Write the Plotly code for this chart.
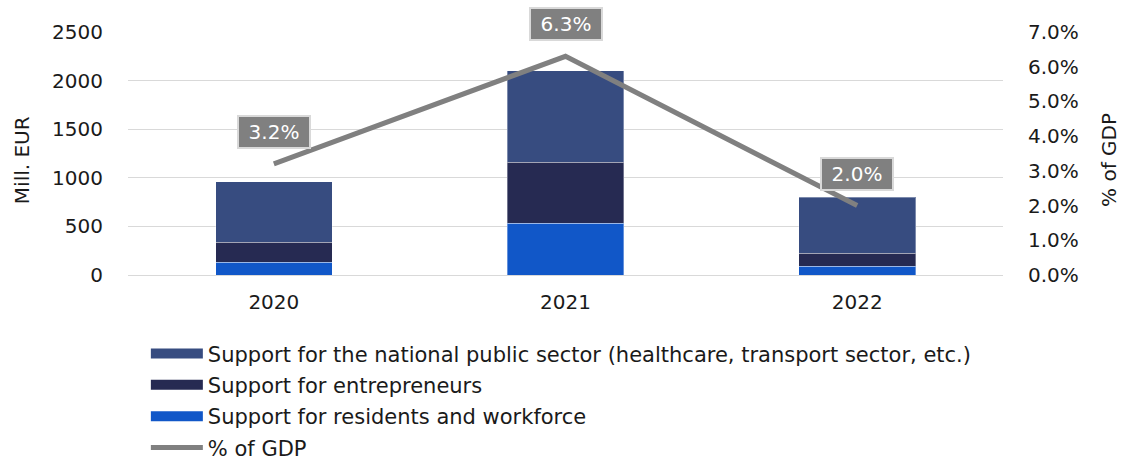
import plotly.graph_objects as go

# Support measures by year (million EUR) and total as share of GDP
years = ["2020", "2021", "2022"]
public_sector = [624, 943, 576]
entrepreneurs = [206, 627, 134]
residents = [130, 532, 89]
gdp_share = [0.032, 0.063, 0.020]

names = [
    "Support for the national public sector (healthcare, transport sector, etc.)",
    "Support for entrepreneurs",
    "Support for residents and workforce",
    "% of GDP",
]
left_title = "Mill. EUR"
right_title = "% of GDP"
colors = ["#374C80", "#262A52", "#1157C8"]
line_color = "#808080"
font_family = "DejaVu Sans, Verdana, sans-serif"
text_color = "#1a1a1a"
clear = "rgba(0,0,0,0)"

fig = go.Figure()

# stacked bars, bottom segment first
stack = [(residents, colors[2], names[2]),
         (entrepreneurs, colors[1], names[1]),
         (public_sector, colors[0], names[0])]
for vals, col, nm in stack:
    fig.add_trace(go.Bar(
        x=years, y=vals, name=nm, marker=dict(color=col,
        line=dict(color="rgba(255,255,255,0.35)", width=1)),
        width=0.4, showlegend=False,
    ))

# legend entries drawn as wide swatches (kept on hidden helper axes)
for i, (nm, col) in enumerate(zip(names[:3], colors)):
    fig.add_trace(go.Scatter(
        x=[None], y=[None], mode="lines", name=nm, xaxis="x2", yaxis="y3",
        line=dict(color=col, width=12), legendgroup=f"g{i}",
        hoverinfo="skip",
    ))

fig.add_trace(go.Scatter(
    x=years, y=gdp_share, mode="lines", name=names[3], yaxis="y2",
    line=dict(color=line_color, width=5), legendgroup="g3",
))

# value boxes above the GDP-share line (x given as category index)
for idx, v in enumerate(gdp_share):
    fig.add_annotation(
        x=idx, y=v, xref="x", yref="y2", text=f"{v*100:.1f}%",
        showarrow=False, yshift=32, width=70, height=30,
        bgcolor=line_color, bordercolor="#d9d9d9", borderwidth=2, borderpad=0,
        font=dict(family=font_family, size=20, color="white"),
    )

# axis titles
fig.add_annotation(text=left_title, xref="paper", yref="paper", x=-0.121, y=0.473,
                   textangle=-90, showarrow=False, xanchor="center", yanchor="middle",
                   font=dict(family=font_family, size=20, color=text_color))
fig.add_annotation(text=right_title, xref="paper", yref="paper", x=1.121, y=0.473,
                   textangle=-90, showarrow=False, xanchor="center", yanchor="middle",
                   font=dict(family=font_family, size=20, color=text_color))

fig.update_layout(
    width=1122, height=465,
    margin=dict(l=128, r=119, t=32, b=190, autoexpand=False),
    paper_bgcolor="white", plot_bgcolor="white",
    barmode="stack",
    font=dict(family=font_family, size=20, color=text_color),
    xaxis=dict(type="category", categoryorder="array", categoryarray=years,
               range=[-0.5, 2.5], autorange=False,
               showgrid=False, showline=False,
               ticks="outside", ticklen=9, tickcolor=clear),
    xaxis2=dict(overlaying="x", visible=False, range=[0, 1]),
    yaxis=dict(range=[0, 2500], dtick=500, showgrid=True, gridcolor="#d9d9d9",
               gridwidth=1, zeroline=True, zerolinecolor="#d9d9d9", zerolinewidth=1,
               ticks="outside", ticklen=20, tickcolor=clear),
    yaxis2=dict(range=[0, 0.07], dtick=0.01, tickformat=".1%", overlaying="y",
                side="right", showgrid=False, zeroline=False,
                ticks="outside", ticklen=20, tickcolor=clear),
    yaxis3=dict(overlaying="y", visible=False, range=[0, 1]),
    legend=dict(orientation="v", xref="container", yref="container",
                x=0.13, y=0.283, xanchor="left", yanchor="top", itemwidth=52,
                tracegroupgap=1, font=dict(size=21), bgcolor=clear),
)

fig.write_html("out.html")
